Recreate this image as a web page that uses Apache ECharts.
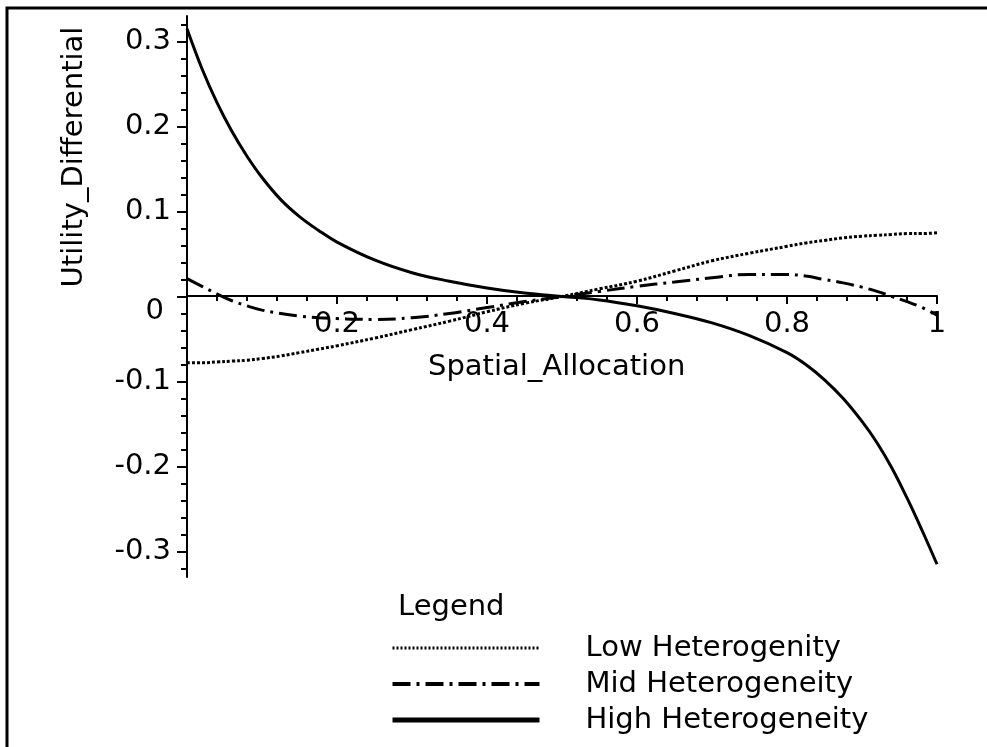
<!DOCTYPE html>
<html>
<head>
<meta charset="utf-8">
<script src="https://cdn.jsdelivr.net/npm/echarts@6/dist/echarts.min.js"></script>
<style>
html,body{margin:0;padding:0;background:#fff;}
#chart{width:987px;height:747px;}
</style>
</head>
<body>
<div id="chart"></div>
<script>
// Shared x positions (Spatial_Allocation)
var xValues = [0, 0.02, 0.04, 0.06, 0.08, 0.1, 0.125, 0.15, 0.175, 0.2, 0.25, 0.3, 0.35, 0.4, 0.45, 0.5,
               0.55, 0.6, 0.65, 0.7, 0.75, 0.8, 0.825, 0.85, 0.875, 0.9, 0.92, 0.94, 0.96, 0.98, 1.0];
// Utility_Differential values
var lowValues  = [-0.078, -0.078, -0.077, -0.076, -0.075, -0.073, -0.070, -0.066, -0.062, -0.058, -0.049, -0.039, -0.029, -0.018, -0.008, 0.000,
                  0.009, 0.018, 0.030, 0.042, 0.051, 0.059, 0.063, 0.066, 0.069, 0.071, 0.072, 0.073, 0.074, 0.074, 0.075];
var midValues  = [0.021, 0.012, 0.003, -0.005, -0.011, -0.016, -0.020, -0.023, -0.025, -0.026, -0.027, -0.025, -0.020, -0.013, -0.006, 0.000,
                  0.006, 0.012, 0.017, 0.022, 0.026, 0.026, 0.024, 0.020, 0.016, 0.011, 0.006, 0.000, -0.006, -0.013, -0.022];
var highValues = [0.315, 0.268, 0.228, 0.194, 0.165, 0.140, 0.114, 0.094, 0.078, 0.064, 0.043, 0.028, 0.018, 0.010, 0.004, 0.000,
                  -0.004, -0.011, -0.020, -0.031, -0.046, -0.066, -0.080, -0.098, -0.120, -0.147, -0.172, -0.202, -0.237, -0.275, -0.315];

var seriesNames = ['Low Heterogenity', 'Mid Heterogeneity', 'High Heterogeneity'];
var yTickLabels = [-0.3, -0.2, -0.1, 0, 0.1, 0.2, 0.3];
var yMinorTicks = [-0.32, -0.30, -0.28, -0.26, -0.24, -0.22, -0.20, -0.18, -0.16, -0.14, -0.12, -0.10, -0.08, -0.06, -0.04, -0.02, 0,
                   0.02, 0.04, 0.06, 0.08, 0.10, 0.12, 0.14, 0.16, 0.18, 0.20, 0.22, 0.24, 0.26, 0.28, 0.30, 0.32];
var xAxisTitle = 'Spatial_Allocation';
var yAxisTitle = 'Utility_Differential';
var legendTitle = 'Legend';

function pairs(xs, ys) { return xs.map(function (x, i) { return [x, ys[i]]; }); }

var FONT = 'DejaVu Sans';
var Y_MIN = -0.33, Y_MAX = 0.33;
var chart = echarts.init(document.getElementById('chart'), null, {renderer: 'canvas'});
chart.setOption({
  animation: false,
  backgroundColor: '#ffffff',
  grid: [
    {left: 187, right: 50, top: 16, height: 561, containLabel: false},
    // upper half only: its bottom edge is the y = 0 line of the main grid
    {left: 187, right: 50, top: 16, height: 280, containLabel: false}
  ],
  xAxis: [{
    gridIndex: 0, type: 'value', min: 0, max: 1, show: false
  }, {
    gridIndex: 1, type: 'value', min: 0, max: 1, interval: 0.2, position: 'bottom',
    axisLine: {show: true, onZero: false, lineStyle: {color: '#000', width: 2}},
    axisTick: {show: true, length: 8, lineStyle: {color: '#000', width: 2}},
    minorTick: {show: true, splitNumber: 5, length: 5, lineStyle: {color: '#000', width: 2}},
    splitLine: {show: false},
    axisLabel: {
      margin: 14, color: '#000', fontFamily: FONT, fontSize: 29,
      formatter: function (v) { return v === 0 ? '' : String(Math.round(v * 10) / 10); }
    }
  }],
  yAxis: [{
    gridIndex: 0, type: 'value', min: Y_MIN, max: Y_MAX,
    axisLine: {show: true, onZero: false, lineStyle: {color: '#000', width: 2}},
    axisTick: {show: true, customValues: yTickLabels, length: 10, lineStyle: {color: '#000', width: 2}},
    splitLine: {show: false},
    axisLabel: {
      customValues: yTickLabels, margin: 16, color: '#000', fontFamily: FONT, fontSize: 29,
      formatter: function (v) { return Math.abs(v) < 1e-9 ? '{z|0}' : String(Math.round(v * 10) / 10); },
      rich: {z: {fontFamily: FONT, fontSize: 29, color: '#000', padding: [30, 7, 0, 0]}}
    }
  }, {
    gridIndex: 0, type: 'value', min: Y_MIN, max: Y_MAX, position: 'left',
    axisLine: {show: false, onZero: false},
    axisTick: {show: true, customValues: yMinorTicks, length: 6, lineStyle: {color: '#000', width: 2}},
    axisLabel: {show: false},
    splitLine: {show: false}
  }, {
    gridIndex: 1, type: 'value', min: 0, max: Y_MAX, show: false
  }],
  legend: {
    orient: 'vertical', left: 390, top: 632, padding: 0,
    itemWidth: 147, itemHeight: 14, itemGap: 4,
    itemStyle: {opacity: 0},
    textStyle: {color: '#000', fontFamily: FONT, fontSize: 29, lineHeight: 32, padding: [0, 0, 0, 41]},
    data: [
      {name: seriesNames[0], lineStyle: {width: 3, type: [2, 2]}},
      {name: seriesNames[1], lineStyle: {width: 4}},
      {name: seriesNames[2], lineStyle: {width: 5}}
    ]
  },
  graphic: [
    {type: 'rect', shape: {x: 7, y: 8, width: 1100, height: 900}, style: {fill: 'none', stroke: '#000', lineWidth: 3}, silent: true},
    {type: 'text', x: 428, y: 367, style: {text: xAxisTitle, fill: '#000', font: '29px "DejaVu Sans"', textVerticalAlign: 'middle'}},
    {type: 'text', x: 74, y: 157, rotation: Math.PI / 2, style: {text: yAxisTitle, fill: '#000', font: '29px "DejaVu Sans"', textAlign: 'center', textVerticalAlign: 'middle'}},
    {type: 'text', x: 398, y: 607, style: {text: legendTitle, fill: '#000', font: '29px "DejaVu Sans"', textVerticalAlign: 'middle'}}
  ],
  series: [
    {name: seriesNames[0], type: 'line', xAxisIndex: 0, yAxisIndex: 0, data: pairs(xValues, lowValues), smooth: 0.4, symbol: 'none',
     itemStyle: {color: '#000'}, lineStyle: {color: '#000', width: 3, type: [3, 2]}},
    {name: seriesNames[1], type: 'line', xAxisIndex: 0, yAxisIndex: 0, data: pairs(xValues, midValues), smooth: 0.4, symbol: 'none',
     itemStyle: {color: '#000'}, lineStyle: {color: '#000', width: 3, type: [18, 6, 3, 6]}},
    {name: seriesNames[2], type: 'line', xAxisIndex: 0, yAxisIndex: 0, data: pairs(xValues, highValues), smooth: 0.4, symbol: 'none',
     itemStyle: {color: '#000'}, lineStyle: {color: '#000', width: 3}}
  ]
});
</script>
</body>
</html>
